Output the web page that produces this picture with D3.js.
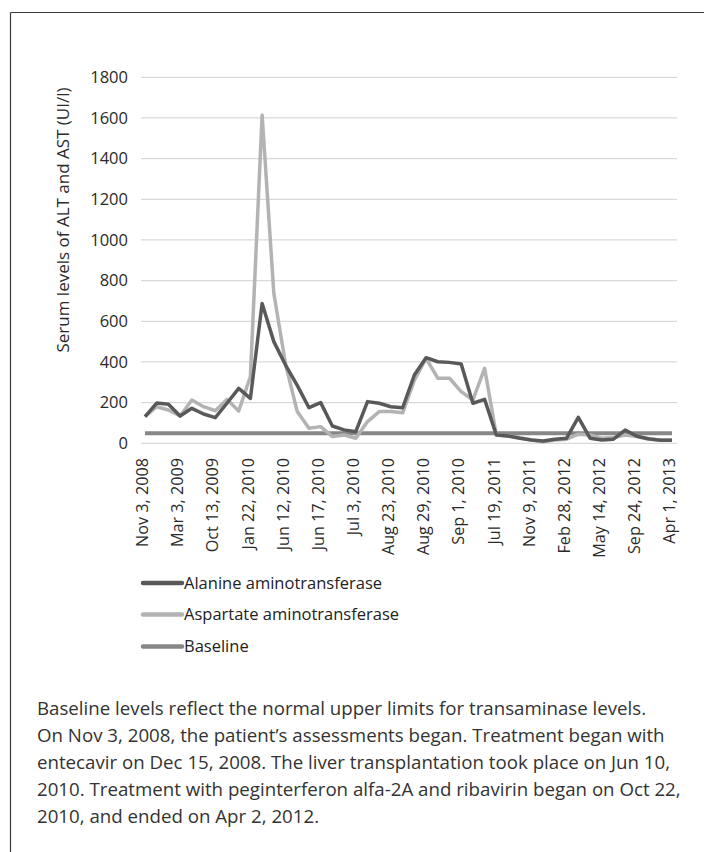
<!DOCTYPE html>
<html>
<head>
<meta charset="utf-8">
<script src="https://cdn.jsdelivr.net/npm/d3@7/dist/d3.min.js"></script>
<style>
  body { margin: 0; background: #fff; }
  svg { display: block; }
  text { font-family: "Open Sans", "Noto Sans", sans-serif; }
</style>
</head>
<body>
<svg id="chart" width="704" height="852"></svg>
<script>
// ---- data ----
const tickLabels = ["Nov 3, 2008", "Mar 3, 2009", "Oct 13, 2009", "Jan 22, 2010", "Jun 12, 2010",
  "Jun 17, 2010", "Jul 3, 2010", "Aug 23, 2010", "Aug 29, 2010", "Sep 1, 2010", "Jul 19, 2011",
  "Nov 9, 2011", "Feb 28, 2012", "May 14, 2012", "Sep 24, 2012", "Apr 1, 2013"];
const labelEvery = 3;
const alt = [131, 198, 192, 134, 172, 144, 126, 197, 270, 221, 688, 500, 385, 285, 175, 200,
  85, 66, 57, 205, 197, 180, 175, 336, 421, 401, 398, 390, 197, 216, 41, 36, 25, 16, 11, 20,
  25, 128, 25, 16, 20, 65, 35, 22, 15, 15];
const ast = [131, 180, 164, 134, 213, 180, 160, 216, 159, 328, 1614, 738, 390, 156, 74, 82,
  33, 41, 25, 107, 156, 156, 150, 311, 418, 320, 320, 254, 213, 369, 41, 36, 28, 16, 8, 16,
  20, 45, 41, 25, 28, 41, 33, 20, 16, 16];
const baselineValue = 50;
const yTicks = [0, 200, 400, 600, 800, 1000, 1200, 1400, 1600, 1800];
const seriesNames = ["Alanine aminotransferase", "Aspartate aminotransferase", "Baseline"];
const yTitle = "Serum levels of ALT and AST (UI/l)";
const captionLines = [
  "Baseline levels reflect the normal upper limits for transaminase levels.",
  "On Nov 3, 2008, the patient\u2019s assessments began. Treatment began with",
  "entecavir on Dec 15, 2008. The liver transplantation took place on Jun 10,",
  "2010. Treatment with peginterferon alfa-2A and ribavirin began on Oct 22,",
  "2010, and ended on Apr 2, 2012."
];

// ---- chart ----
const svg = d3.select("#chart");
const colors = ["#595959", "#b3b3b3", "#878787"];

// frame
svg.append("line").attr("x1", 10.5).attr("x2", 704).attr("y1", 12.5).attr("y2", 12.5)
  .attr("stroke", "#3a3a3a").attr("stroke-width", 1.2);
svg.append("line").attr("x1", 10.5).attr("x2", 10.5).attr("y1", 12.5).attr("y2", 852)
  .attr("stroke", "#3a3a3a").attr("stroke-width", 1.2);

const idx = d3.range(alt.length);
const x = d3.scalePoint().domain(idx).range([145, 672]);
const y = d3.scaleLinear().domain([0, 1800]).range([443.3, 77.3]);

// gridlines
svg.append("g").selectAll("line").data(yTicks).join("line")
  .attr("x1", 141).attr("x2", 677)
  .attr("y1", d => y(d)).attr("y2", d => y(d))
  .attr("stroke", "#d9d9d9").attr("stroke-width", 1.3);

// y axis
const yAxis = d3.axisLeft(y).tickValues(yTicks).tickFormat(d3.format("d")).tickSize(0).tickPadding(0);
const gy = svg.append("g").attr("transform", "translate(128,0)").call(yAxis);
gy.attr("font-size", null).attr("font-family", null);
gy.select(".domain").remove();
gy.selectAll("text").attr("font-size", 16.5).attr("fill", "#2a2a2a");

svg.append("text").attr("transform", "translate(62,220) rotate(-90)")
  .attr("text-anchor", "middle").attr("dominant-baseline", "central")
  .attr("font-size", 17).attr("fill", "#2a2a2a").text(yTitle);

// x axis labels
const tickIdx = tickLabels.map((_, i) => i * labelEvery);
const xAxis = d3.axisBottom(x).tickValues(tickIdx)
  .tickFormat(d => tickLabels[d / labelEvery]).tickSize(0).tickPadding(0);
const gx = svg.append("g").attr("transform", "translate(0,458)").call(xAxis);
gx.attr("font-size", null).attr("font-family", null);
gx.select(".domain").remove();
gx.selectAll("text")
  .attr("transform", "rotate(-90)")
  .attr("x", 0).attr("y", -3).attr("dy", "0.35em")
  .attr("text-anchor", "end")
  .attr("font-size", 16.2).attr("fill", "#2a2a2a");

// lines
const line = d3.line().x((d, i) => x(i)).y(d => y(d));
svg.append("path").datum(idx.map(() => baselineValue)).attr("d", line)
  .attr("fill", "none").attr("stroke", colors[2]).attr("stroke-width", 4);
svg.append("path").datum(ast).attr("d", line)
  .attr("fill", "none").attr("stroke", colors[1]).attr("stroke-width", 3.5)
  .attr("stroke-linejoin", "round");
svg.append("path").datum(alt).attr("d", line)
  .attr("fill", "none").attr("stroke", colors[0]).attr("stroke-width", 3.5)
  .attr("stroke-linejoin", "round");

// legend
const legY = [583, 614.5, 646.5];
const leg = svg.append("g").selectAll("g").data(seriesNames).join("g")
  .attr("transform", (d, i) => `translate(0,${legY[i]})`);
leg.append("line").attr("x1", 143).attr("x2", 182).attr("y1", 0).attr("y2", 0)
  .attr("stroke", (d, i) => colors[i]).attr("stroke-width", 4.5).attr("stroke-linecap", "round");
leg.append("text").attr("x", 184).attr("y", 0).attr("dy", "0.35em")
  .attr("font-size", 16.5).attr("fill", "#222").text(d => d);

// caption
const cap = svg.append("g").selectAll("text").data(captionLines).join("text")
  .attr("x", 37).attr("y", (d, i) => 715 + i * 27)
  .attr("font-size", 16).attr("fill", "#333").text(d => d);
// fit caption font to reference width of the second line
const w = cap.nodes()[1].getComputedTextLength();
const fs = 16 * 628 / w;
cap.attr("font-size", fs);
</script>
</body>
</html>
